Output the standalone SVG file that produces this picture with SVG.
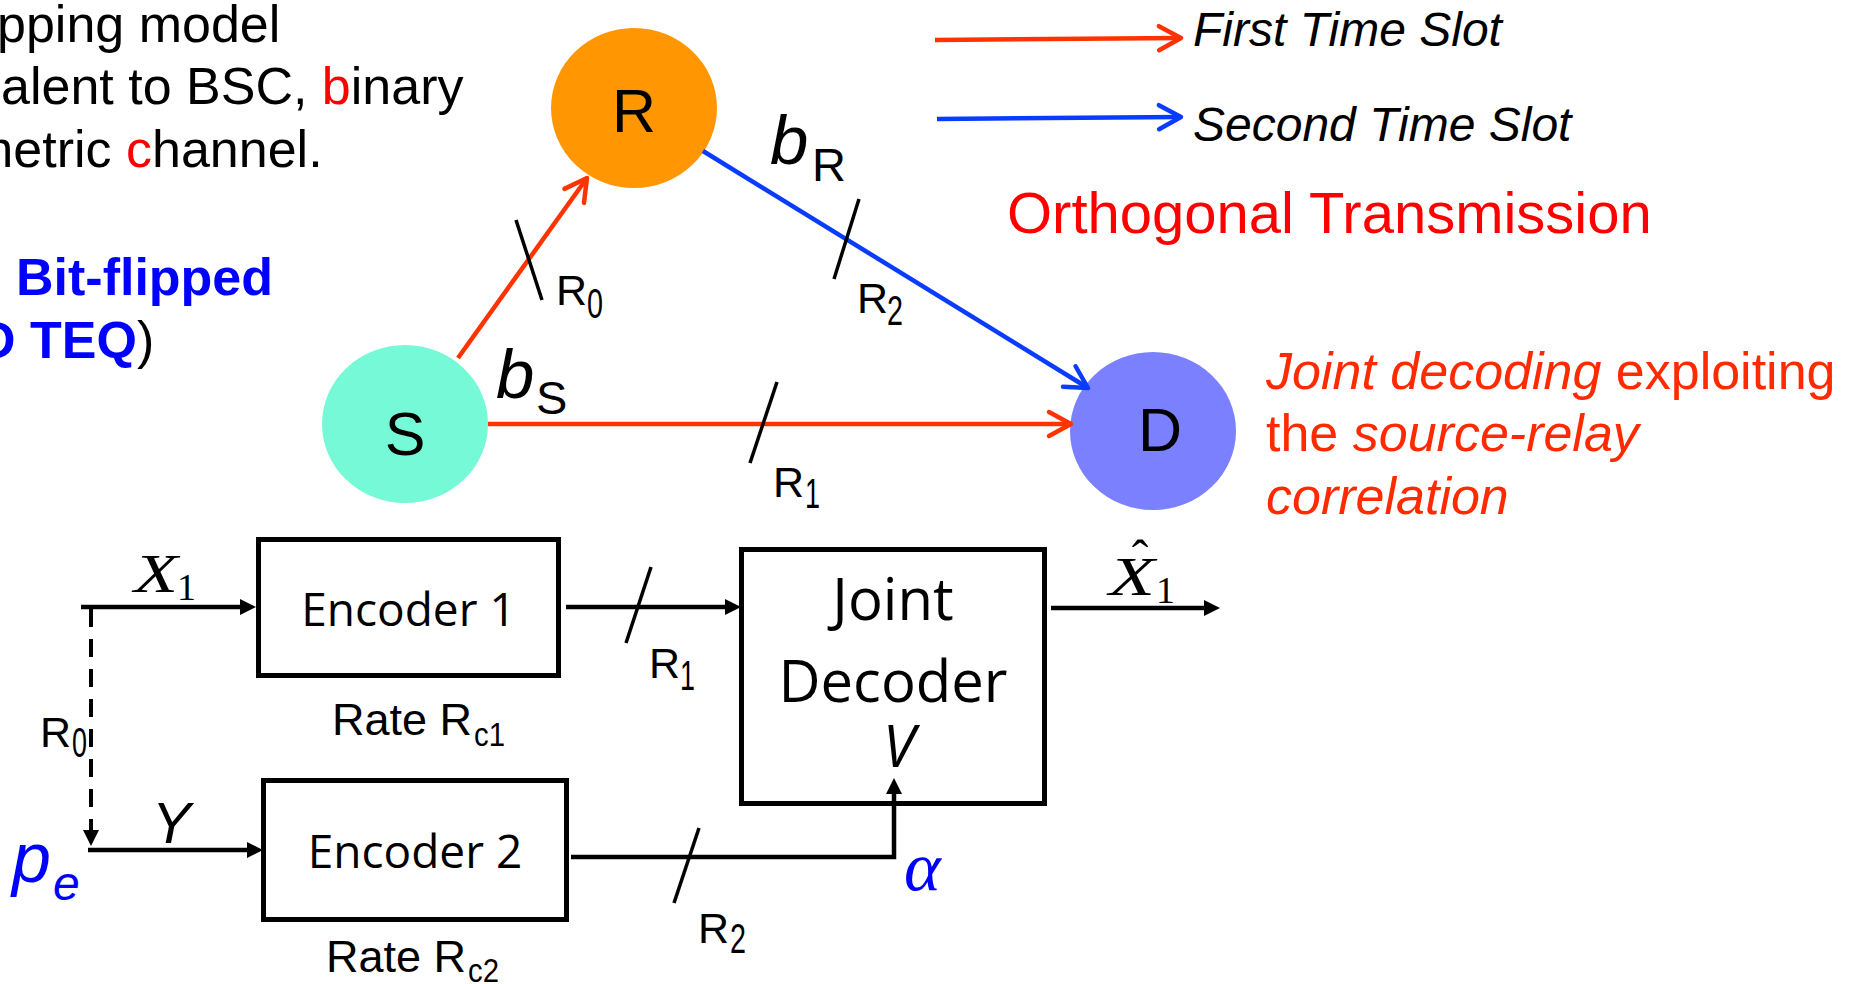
<svg xmlns="http://www.w3.org/2000/svg" width="1861" height="984" viewBox="0 0 1861 984">
<style>
 .sans{font-family:"Liberation Sans",Arial,sans-serif}
 .os{font-family:"Open Sans","Noto Sans",sans-serif}
 .serif{font-family:"Liberation Serif","Times New Roman",serif}
 .it{font-style:italic}
 .b{font-weight:bold}
 .edge{fill:none;stroke-width:4.5}
 .red{stroke:#FF3300}
 .blue{stroke:#0A3CFF}
 .slash{stroke:#000;stroke-width:3.5}
 .blk{fill:none;stroke:#000;stroke-width:4.5}
 .dash{stroke-dasharray:18 12;stroke-width:4}
 .box{fill:#fff;stroke:#000;stroke-width:5}
 .lbl{fill:#000}
</style>
<defs>
 <marker id="chevRed" markerUnits="userSpaceOnUse" orient="auto" markerWidth="40" markerHeight="40" viewBox="-30 -20 40 40" refX="0" refY="0">
  <path d="M-22,-12 L0,0 L-22,12" fill="none" stroke="#FF3300" stroke-width="4.5" stroke-linecap="round" stroke-linejoin="round"/>
 </marker>
 <marker id="chevBlue" markerUnits="userSpaceOnUse" orient="auto" markerWidth="40" markerHeight="40" viewBox="-30 -20 40 40" refX="0" refY="0">
  <path d="M-22,-12 L0,0 L-22,12" fill="none" stroke="#0A3CFF" stroke-width="4.5" stroke-linecap="round" stroke-linejoin="round"/>
 </marker>
 <marker id="tri" markerUnits="userSpaceOnUse" orient="auto" markerWidth="20" markerHeight="20" viewBox="0 -10 20 20" refX="4" refY="0">
  <path d="M0,-8 L16,0 L0,8 Z" fill="#000"/>
 </marker>
</defs>
<rect width="1861" height="984" fill="#fff"/>

<g id="intro-text" class="sans" font-size="52">
 <text x="-3" y="42">pping model</text>
 <text x="1" y="104">alent to BSC, <tspan fill="#FF0000">b</tspan>inary</text>
 <text x="-30" y="167">metric <tspan fill="#FF0000">c</tspan>hannel.</text>
 <text x="16" y="295" class="b" fill="#0000FF">Bit-flipped</text>
 <text x="-22" y="358"><tspan class="b" fill="#0000FF">D TEQ</tspan>)</text>
</g>

<g id="legend">
 <line x1="935" y1="40" x2="1181" y2="38" class="edge red" marker-end="url(#chevRed)"/>
 <text class="sans it" font-size="48" x="1193" y="46">First Time Slot</text>
 <line x1="937" y1="119" x2="1181" y2="117" class="edge blue" marker-end="url(#chevBlue)"/>
 <text class="sans it" font-size="48" x="1193" y="141">Second Time Slot</text>
 <text class="sans" font-size="58" x="1007" y="233" fill="#FF0000">Orthogonal Transmission</text>
</g>

<g id="node-R">
 <ellipse cx="634" cy="108" rx="83" ry="80" fill="#FF9602"/>
 <text class="sans" font-size="61" x="634" y="132" text-anchor="middle">R</text>
</g>
<g id="node-S">
 <ellipse cx="405" cy="424" rx="83" ry="79" fill="#76F9D6"/>
 <text class="sans" font-size="61" x="405" y="455" text-anchor="middle">S</text>
</g>
<g id="node-D">
 <ellipse cx="1153" cy="431" rx="83" ry="79" fill="#7B80FF"/>
 <text class="sans" font-size="61" x="1160" y="451" text-anchor="middle">D</text>
</g>

<g id="joint-text" class="sans" font-size="52" fill="#FF2A00">
 <text x="1266" y="389"><tspan class="it">Joint decoding</tspan> exploiting</text>
 <text x="1266" y="451">the <tspan class="it">source-relay</tspan></text>
 <text x="1266" y="514" class="it">correlation</text>
</g>

<g id="encoder1">
 <rect x="258.5" y="539.5" width="300" height="136" class="box"/>
 <text class="os" font-size="46" x="408.5" y="626" text-anchor="middle">Encoder 1</text>
 <text class="sans" font-size="45" x="332" y="735">Rate R</text>
 <text class="sans" font-size="33" x="474" y="746" textLength="31" lengthAdjust="spacingAndGlyphs">c1</text>
</g>
<g id="encoder2">
 <rect x="263.5" y="780.5" width="303" height="139" class="box"/>
 <text class="os" font-size="46" x="415" y="868" text-anchor="middle">Encoder 2</text>
 <text class="sans" font-size="45" x="326" y="972">Rate R</text>
 <text class="sans" font-size="33" x="468" y="982" textLength="31" lengthAdjust="spacingAndGlyphs">c2</text>
</g>
<g id="joint-decoder">
 <rect x="741.5" y="549.5" width="303" height="254" class="box"/>
 <text class="os" font-size="58" x="893" y="620" text-anchor="middle">Joint</text>
 <text class="os" font-size="58" x="893" y="702" text-anchor="middle">Decoder</text>
 <text class="os it" font-size="58" x="899" y="767" text-anchor="middle">V</text>
</g>

<g id="connectors">
 <line x1="458" y1="358" x2="587" y2="178" class="edge red" marker-end="url(#chevRed)"/>
 <line x1="703" y1="151" x2="1088" y2="388" class="edge blue" marker-end="url(#chevBlue)"/>
 <line x1="488" y1="424" x2="1071" y2="424" class="edge red" marker-end="url(#chevRed)"/>
 <line x1="516" y1="220" x2="542" y2="300" class="slash"/>
 <line x1="859" y1="199" x2="834" y2="279" class="slash"/>
 <line x1="777" y1="382" x2="750" y2="463" class="slash"/>

 <line x1="81" y1="607" x2="244" y2="607" class="blk" marker-end="url(#tri)"/>
 <line x1="91" y1="609" x2="91" y2="834" class="blk dash" marker-end="url(#tri)"/>
 <line x1="88" y1="850" x2="251" y2="850" class="blk" marker-end="url(#tri)"/>
 <line x1="566" y1="607" x2="729" y2="607" class="blk" marker-end="url(#tri)"/>
 <polyline points="571,857 894,857 894,790" class="blk" marker-end="url(#tri)"/>
 <line x1="1051" y1="608" x2="1208" y2="608" class="blk" marker-end="url(#tri)"/>
 <line x1="651" y1="567" x2="626" y2="643" class="slash"/>
 <line x1="699" y1="828" x2="674" y2="903" class="slash"/>
</g>

<g id="labels" class="lbl">
 <text class="sans it" font-size="69" x="770" y="164">b</text>
 <text class="sans" font-size="47" x="812" y="181">R</text>
 <text class="sans it" font-size="69" x="496" y="398">b</text>
 <text class="sans" font-size="47" x="536" y="414">S</text>

 <text class="sans" font-size="43" x="556" y="305">R</text>
 <text class="sans" font-size="43" x="587" y="318" textLength="16" lengthAdjust="spacingAndGlyphs">0</text>
 <text class="sans" font-size="43" x="857" y="313">R</text>
 <text class="sans" font-size="43" x="887" y="325" textLength="16" lengthAdjust="spacingAndGlyphs">2</text>
 <text class="sans" font-size="43" x="773" y="497">R</text>
 <text class="sans" font-size="43" x="805" y="508" textLength="15" lengthAdjust="spacingAndGlyphs">1</text>

 <text class="sans" font-size="43" x="649" y="678">R</text>
 <text class="sans" font-size="43" x="680" y="690" textLength="15" lengthAdjust="spacingAndGlyphs">1</text>
 <text class="sans" font-size="43" x="40" y="747">R</text>
 <text class="sans" font-size="43" x="72" y="757" textLength="15" lengthAdjust="spacingAndGlyphs">0</text>
 <text class="sans" font-size="43" x="698" y="943">R</text>
 <text class="sans" font-size="43" x="730" y="953" textLength="16" lengthAdjust="spacingAndGlyphs">2</text>

 <text class="serif it" font-size="54" x="134" y="592" textLength="44" lengthAdjust="spacingAndGlyphs">X</text>
 <text class="serif" font-size="38" x="177" y="600">1</text>
 <text class="serif it" font-size="54" x="1109" y="595" textLength="46" lengthAdjust="spacingAndGlyphs">X</text>
 <text class="serif" font-size="50" x="1140" y="575" text-anchor="middle">ˆ</text>
 <text class="serif" font-size="38" x="1156" y="603">1</text>
 <text class="sans it" font-size="58" x="152" y="843">Y</text>
 <text class="sans it" font-size="70" x="12" y="882" fill="#0000FF">p</text>
 <text class="sans it" font-size="48" x="53" y="900" fill="#0000FF">e</text>
 <text class="serif it" font-size="70" x="904" y="890" fill="#0000FF">α</text>
</g>
</svg>
